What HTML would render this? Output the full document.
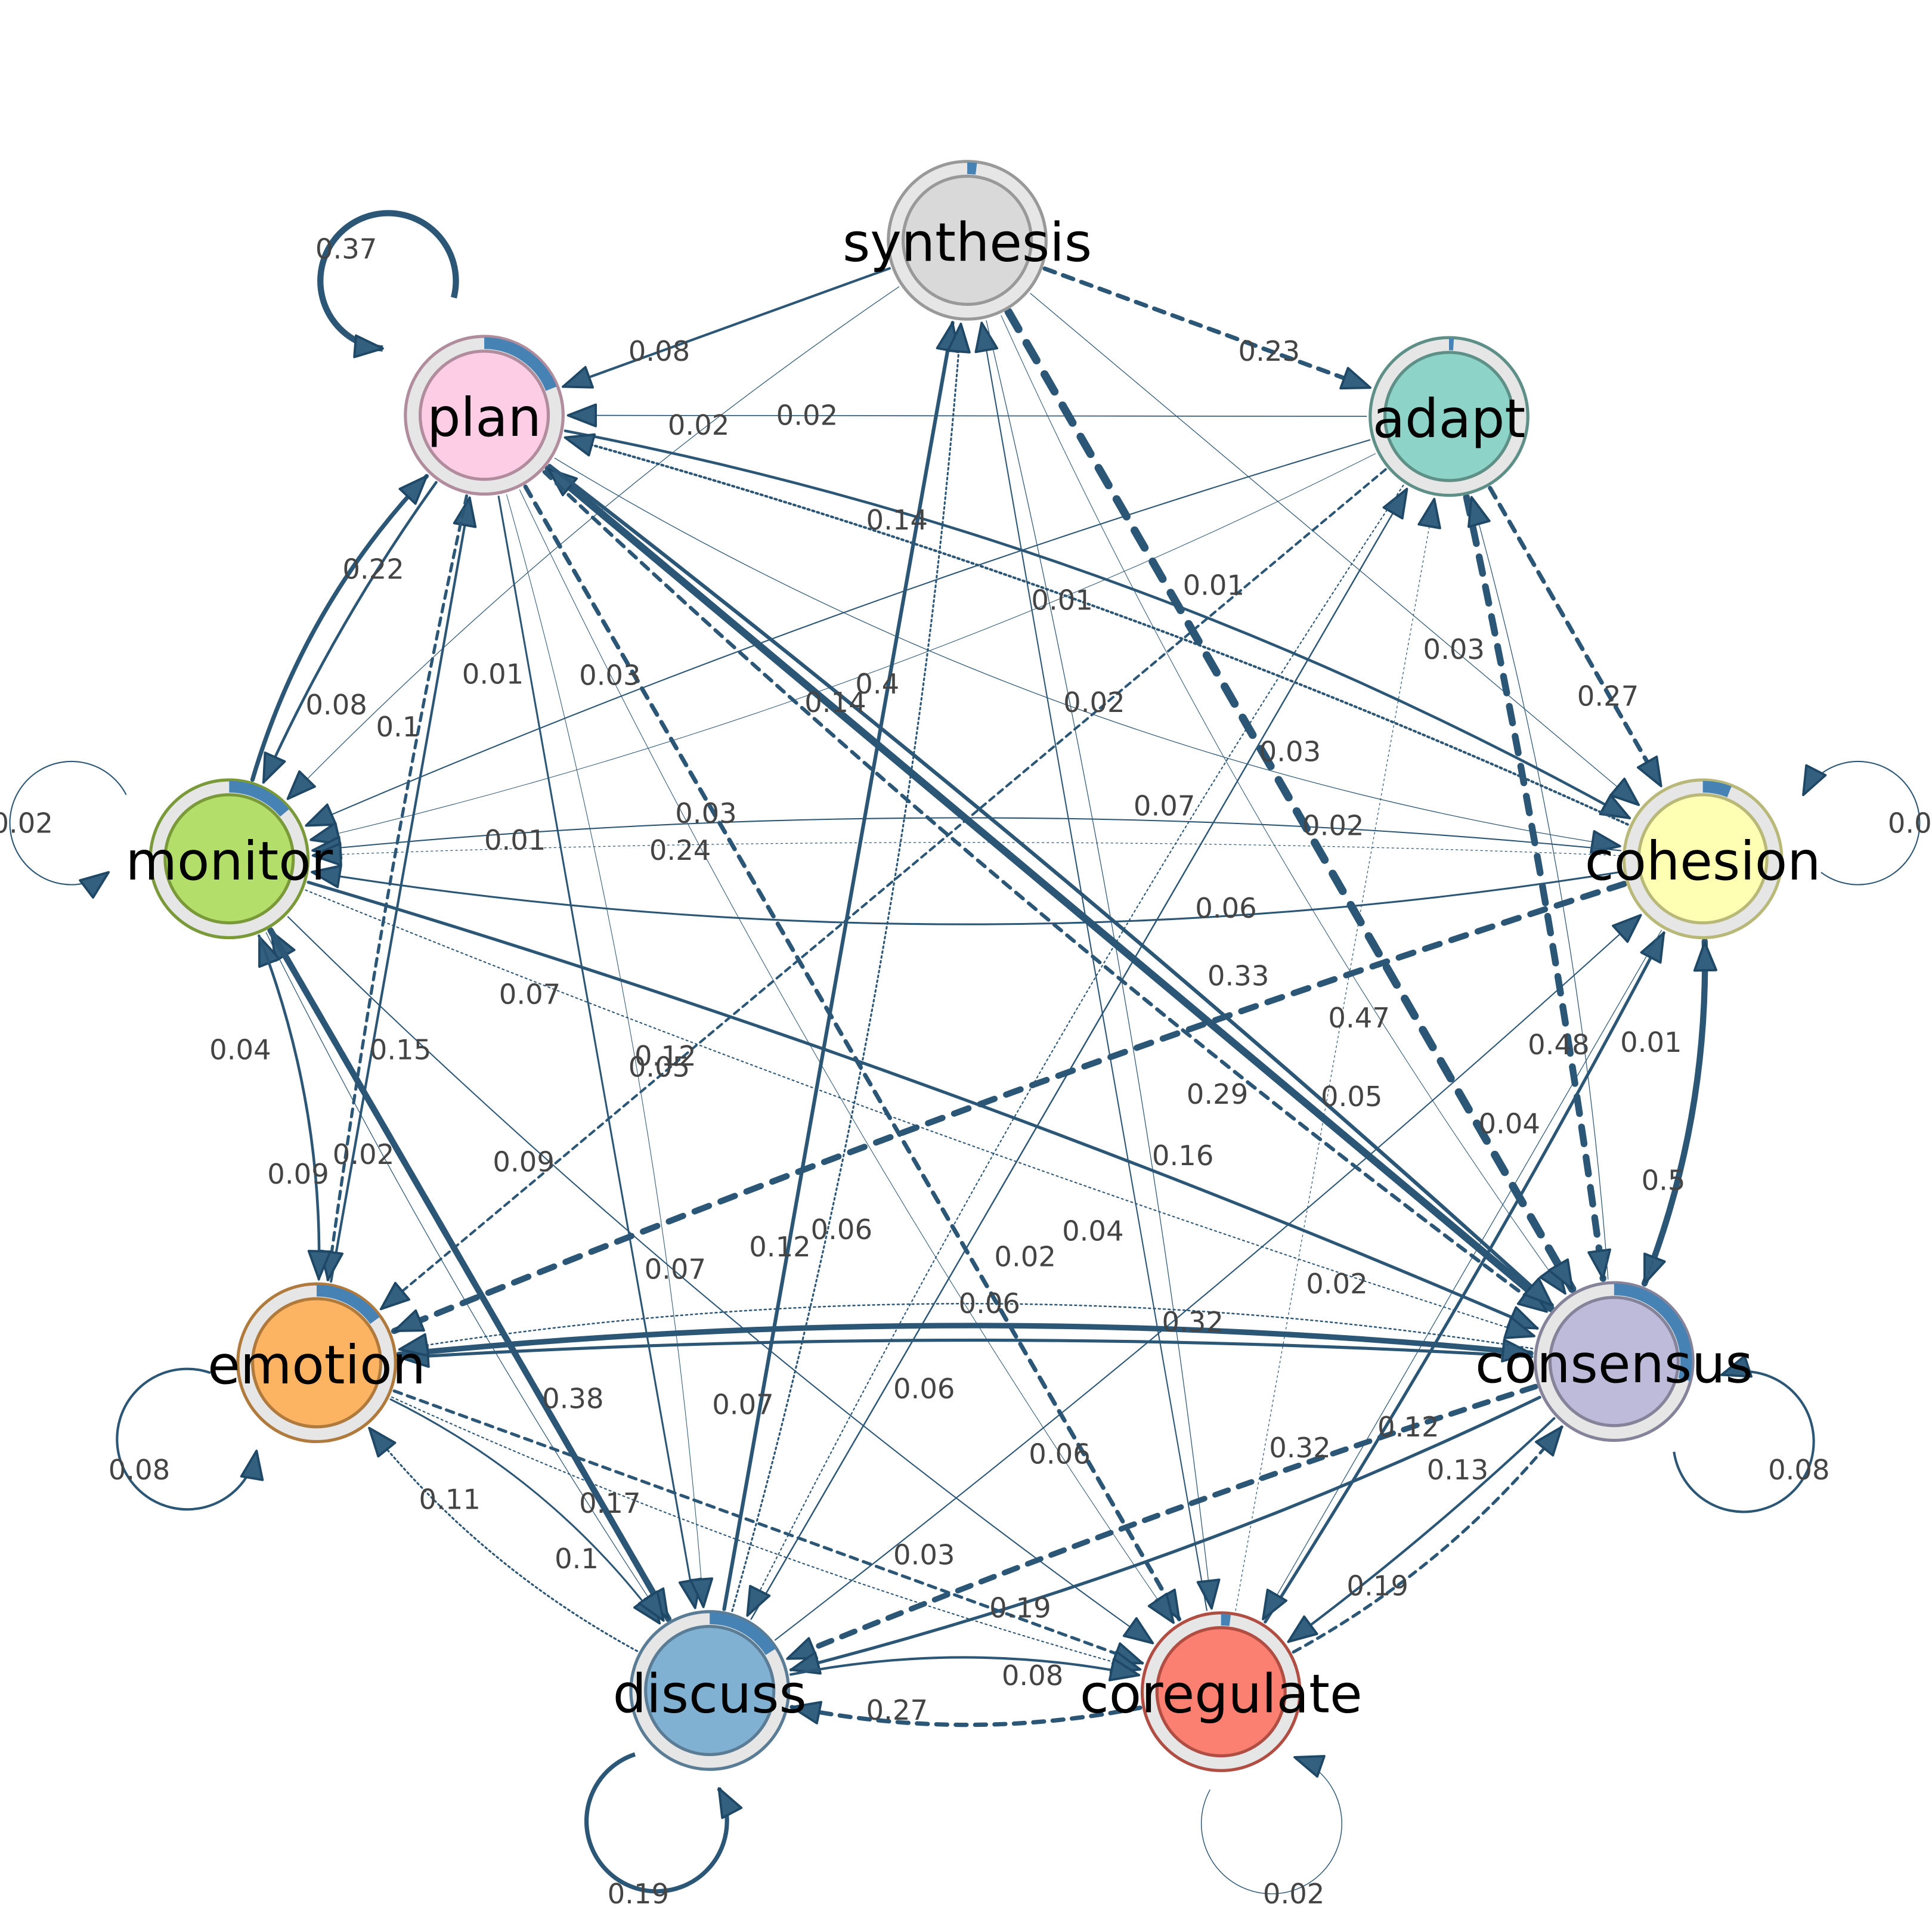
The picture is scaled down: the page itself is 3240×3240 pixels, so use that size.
<!DOCTYPE html>
<html><head><meta charset="utf-8">
<style>
html,body{margin:0;padding:0;background:#fff;}
svg{display:block;}
.el{font-family:"DejaVu Sans","Liberation Sans",sans-serif;font-size:22.5px;fill:#444;text-anchor:middle;dominant-baseline:central;}
.nl{font-family:"DejaVu Sans","Liberation Sans",sans-serif;font-size:43px;fill:#000;text-anchor:middle;dominant-baseline:central;}
</style></head>
<body>
<svg id="s" width="3240" height="3240" viewBox="0 0 1568 1568" xmlns="http://www.w3.org/2000/svg">
<defs>
<marker id="ar" viewBox="0 0 20 16" refX="19" refY="8" markerWidth="25" markerHeight="20" markerUnits="userSpaceOnUse" orient="auto">
<path d="M1,1 L19,8 L1,15 Z" fill="#33607e" stroke="#1f4866" stroke-width="1.5" stroke-linejoin="round"/>
</marker>
</defs>
<g id="edges"></g>
<g id="nodes"></g>
<g id="labels">
<text class="el" x="281" y="202">0.37</text>
<text class="el" x="535" y="285">0.08</text>
<text class="el" x="1030" y="285">0.23</text>
<text class="el" x="567" y="345">0.02</text>
<text class="el" x="655" y="337">0.02</text>
<text class="el" x="728" y="422">0.14</text>
<text class="el" x="862" y="487">0.01</text>
<text class="el" x="985" y="475">0.01</text>
<text class="el" x="1180" y="527">0.03</text>
<text class="el" x="1305" y="565">0.27</text>
<text class="el" x="303" y="462">0.22</text>
<text class="el" x="273" y="572">0.08</text>
<text class="el" x="323" y="590">0.1</text>
<text class="el" x="400" y="547">0.01</text>
<text class="el" x="495" y="548">0.03</text>
<text class="el" x="712" y="555">0.4</text>
<text class="el" x="678" y="570">0.14</text>
<text class="el" x="888" y="570">0.02</text>
<text class="el" x="1047" y="610">0.03</text>
<text class="el" x="573" y="660">0.03</text>
<text class="el" x="418" y="682">0.01</text>
<text class="el" x="945" y="654">0.07</text>
<text class="el" x="1082" y="670">0.02</text>
<text class="el" x="552" y="690">0.24</text>
<text class="el" x="995" y="737">0.06</text>
<text class="el" x="1005" y="792">0.33</text>
<text class="el" x="1103" y="826">0.47</text>
<text class="el" x="430" y="807">0.07</text>
<text class="el" x="325" y="852">0.15</text>
<text class="el" x="195" y="852">0.04</text>
<text class="el" x="540" y="857">0.12</text>
<text class="el" x="535" y="866">0.05</text>
<text class="el" x="1265" y="848">0.48</text>
<text class="el" x="1340" y="846">0.01</text>
<text class="el" x="988" y="888">0.29</text>
<text class="el" x="1097" y="890">0.05</text>
<text class="el" x="1225" y="912">0.04</text>
<text class="el" x="242" y="953">0.09</text>
<text class="el" x="295" y="937">0.02</text>
<text class="el" x="425" y="943">0.09</text>
<text class="el" x="960" y="938">0.16</text>
<text class="el" x="1350" y="958">0.5</text>
<text class="el" x="683" y="998">0.06</text>
<text class="el" x="887" y="999">0.04</text>
<text class="el" x="633" y="1012">0.12</text>
<text class="el" x="832" y="1020">0.02</text>
<text class="el" x="548" y="1030">0.07</text>
<text class="el" x="1085" y="1042">0.02</text>
<text class="el" x="803" y="1058">0.06</text>
<text class="el" x="968" y="1073">0.32</text>
<text class="el" x="465" y="1135">0.38</text>
<text class="el" x="603" y="1140">0.07</text>
<text class="el" x="750" y="1127">0.06</text>
<text class="el" x="860" y="1180">0.06</text>
<text class="el" x="1055" y="1175">0.32</text>
<text class="el" x="1143" y="1158">0.12</text>
<text class="el" x="1183" y="1193">0.13</text>
<text class="el" x="113" y="1193">0.08</text>
<text class="el" x="1460" y="1193">0.08</text>
<text class="el" x="365" y="1217">0.11</text>
<text class="el" x="495" y="1220">0.17</text>
<text class="el" x="468" y="1265">0.1</text>
<text class="el" x="750" y="1262">0.03</text>
<text class="el" x="828" y="1305">0.19</text>
<text class="el" x="1118" y="1287">0.19</text>
<text class="el" x="838" y="1360">0.08</text>
<text class="el" x="728" y="1388">0.27</text>
<text class="el" x="518" y="1537">0.19</text>
<text class="el" x="1050" y="1537">0.02</text>
<text class="el" x="18" y="668">0.02</text>
<text class="el" x="1550" y="668">0.0</text>
</g>
<g id="nlab">
<text class="nl" x="785" y="197">synthesis</text>
<text class="nl" x="1176" y="340">adapt</text>
<text class="nl" x="393" y="339">plan</text>
<text class="nl" x="186" y="699">monitor</text>
<text class="nl" x="1382" y="699">cohesion</text>
<text class="nl" x="257" y="1108">emotion</text>
<text class="nl" x="1310" y="1107">consensus</text>
<text class="nl" x="576" y="1375">discuss</text>
<text class="nl" x="991" y="1375">coregulate</text>
</g>
</svg>
<script>
var NS="http://www.w3.org/2000/svg";
var N={
synthesis:[785,195,"#d9d9d9","#999",0.02],
adapt:[1176,338,"#8dd3c7","#5f9088",0.01],
plan:[393,337,"#fccde5","#b08c9c",0.19],
monitor:[186,697,"#b3de69","#7a9a3a",0.14],
cohesion:[1382,697,"#ffffb3","#b8b878",0.06],
emotion:[257,1106,"#fdb462","#b07a3c",0.15],
consensus:[1310,1105,"#bebada","#858399",0.29],
discuss:[576,1372,"#80b1d3","#5a7c94",0.16],
coregulate:[991,1373,"#fb8072","#b04e44",0.02]
};
var C="#2b5675";
function el(t,a,p){var e=document.createElementNS(NS,t);for(var k in a)e.setAttribute(k,a[k]);p.appendChild(e);return e;}
var EG=document.getElementById("edges"),NG=document.getElementById("nodes");
var E=[
["synthesis","plan",2,0,0],["synthesis","adapt",3.5,1,0],["synthesis","monitor",0.6,0,0.05],
["adapt","plan",0.8,0,0],["plan","cohesion",2.2,0,-0.08],["cohesion","plan",2,2,0.04],
["adapt","monitor",1,0,0.03],["adapt","monitor",0.5,0,-0.06],["synthesis","cohesion",0.6,0,0],
["synthesis","consensus",0.5,0,0.05],["adapt","cohesion",3.5,1,0],["monitor","plan",3.5,0,-0.12],
["plan","monitor",2.2,0,0.05],["emotion","plan",2,0,0],["plan","emotion",2.5,1,0.02],
["consensus","plan",6,0,0],["plan","consensus",3,1,0.03],["adapt","emotion",2,1,0],
["plan","cohesion",0.6,0,0.1],["cohesion","monitor",1,0,0.05],["cohesion","monitor",0.6,2,0.02],
["cohesion","monitor",1.5,0,-0.08],["cohesion","emotion",5,1,0.02],["synthesis","consensus",6.5,1,0],
["monitor","coregulate",1,0,0.04],["discuss","monitor",5,1,0],["emotion","monitor",1,0,0.1],
["monitor","emotion",2.2,0,-0.1],["adapt","consensus",5.5,1,-0.02],["consensus","cohesion",0.5,0,0.1],
["plan","consensus",3,0,-0.02],["monitor","consensus",2.5,0,-0.03],["cohesion","consensus",5,0,-0.1],
["consensus","cohesion",1,1,0.1],["consensus","emotion",2.5,0,0.03],["plan","discuss",1.5,0,0],
["plan","coregulate",3.5,1,0],["monitor","consensus",1,2,0.02],["emotion","consensus",4.5,0,-0.05],
["consensus","emotion",1.2,2,0.08],["monitor","discuss",5,0,0],["discuss","synthesis",3,0,0],
["consensus","discuss",4.5,1,0.02],["consensus","discuss",2.5,0,-0.05],["coregulate","consensus",2.5,1,0.1],
["consensus","coregulate",2,0,-0.03],["emotion","discuss",1.5,0,-0.12],["discuss","emotion",1.5,2,-0.1],
["emotion","coregulate",2.5,1,0],["emotion","coregulate",1,2,0.04],["discuss","coregulate",2,0,-0.1],
["coregulate","discuss",3.5,1,-0.1],["discuss","adapt",1.2,0,0],["discuss","cohesion",1,0,0.02],
["coregulate","cohesion",2.5,0,0.02],["cohesion","coregulate",0.6,0,0],["coregulate","synthesis",1,0,0],
["discuss","synthesis",1.5,2,0.05],["coregulate","adapt",0.6,2,0],["consensus","adapt",0.6,0,0.05],
["synthesis","coregulate",0.6,0,-0.03],["monitor","discuss",0.6,0,0.03],["plan","discuss",0.5,0,-0.05],
["adapt","discuss",1,2,0.03],["plan","coregulate",0.5,0,0.04]
];
E.forEach(function(e){
 var a=N[e[0]],b=N[e[1]];
 var dx=b[0]-a[0],dy=b[1]-a[1],L=Math.hypot(dx,dy),ux=dx/L,uy=dy/L;
 var px=-uy,py=ux,bd=e[4]*L;
 var mx=(a[0]+b[0])/2+px*bd,my=(a[1]+b[1])/2+py*bd;
 var sx=mx-a[0],sy=my-a[1],sl=Math.hypot(sx,sy);
 var tx=mx-b[0],ty=my-b[1],tl=Math.hypot(tx,ty);
 var x1=a[0]+sx/sl*67,y1=a[1]+sy/sl*67,x2=b[0]+tx/tl*68,y2=b[1]+ty/tl*68;
 var at={d:"M"+x1+","+y1+" Q"+mx+","+my+" "+x2+","+y2,fill:"none",stroke:C,"stroke-width":e[2],"marker-end":"url(#ar)","stroke-linecap":"round"};
 if(e[3]==1)at["stroke-dasharray"]=(e[2]*2.5)+","+(e[2]*2);
 if(e[3]==2)at["stroke-dasharray"]="1.5,2.5";
 el("path",at,EG);
});
var loops=[["plan",315,228,55,5],["monitor",58,668,50,1],["cohesion",1508,668,50,1],["emotion",152,1168,57,2],["consensus",1415,1170,57,2],["discuss",533,1478,57,3.5],["coregulate",1032,1480,57,0.7]];
loops.forEach(function(l){
 var n=N[l[0]],cx=l[1],cy=l[2],r=l[3];
 var phi=Math.atan2(n[1]-cy,n[0]-cx),g=0.7;
 var a1=phi+g,a2=phi-g;
 var x1=cx+r*Math.cos(a1),y1=cy+r*Math.sin(a1),x2=cx+r*Math.cos(a2),y2=cy+r*Math.sin(a2);
 el("path",{d:"M"+x2+","+y2+" A"+r+","+r+" 0 1 0 "+x1+","+y1,fill:"none",stroke:C,"stroke-width":l[4],"marker-end":"url(#ar)"},EG);
});
for(var k in N){var n=N[k];
 el("circle",{cx:n[0],cy:n[1],r:64,fill:"#e6e6e6",stroke:n[3],"stroke-width":2.5},NG);
 var f=n[4],ang=f*2*Math.PI,r=58.5;
 var ex=n[0]+r*Math.sin(ang),ey=n[1]-r*Math.cos(ang);
 el("path",{d:"M"+n[0]+","+(n[1]-r)+" A"+r+","+r+" 0 "+(f>0.5?1:0)+" 1 "+ex+","+ey,fill:"none",stroke:"#4682b4","stroke-width":9.5},NG);
 el("circle",{cx:n[0],cy:n[1],r:52,fill:n[2],stroke:n[3],"stroke-width":2.5},NG);
}
</script>
</body></html>
